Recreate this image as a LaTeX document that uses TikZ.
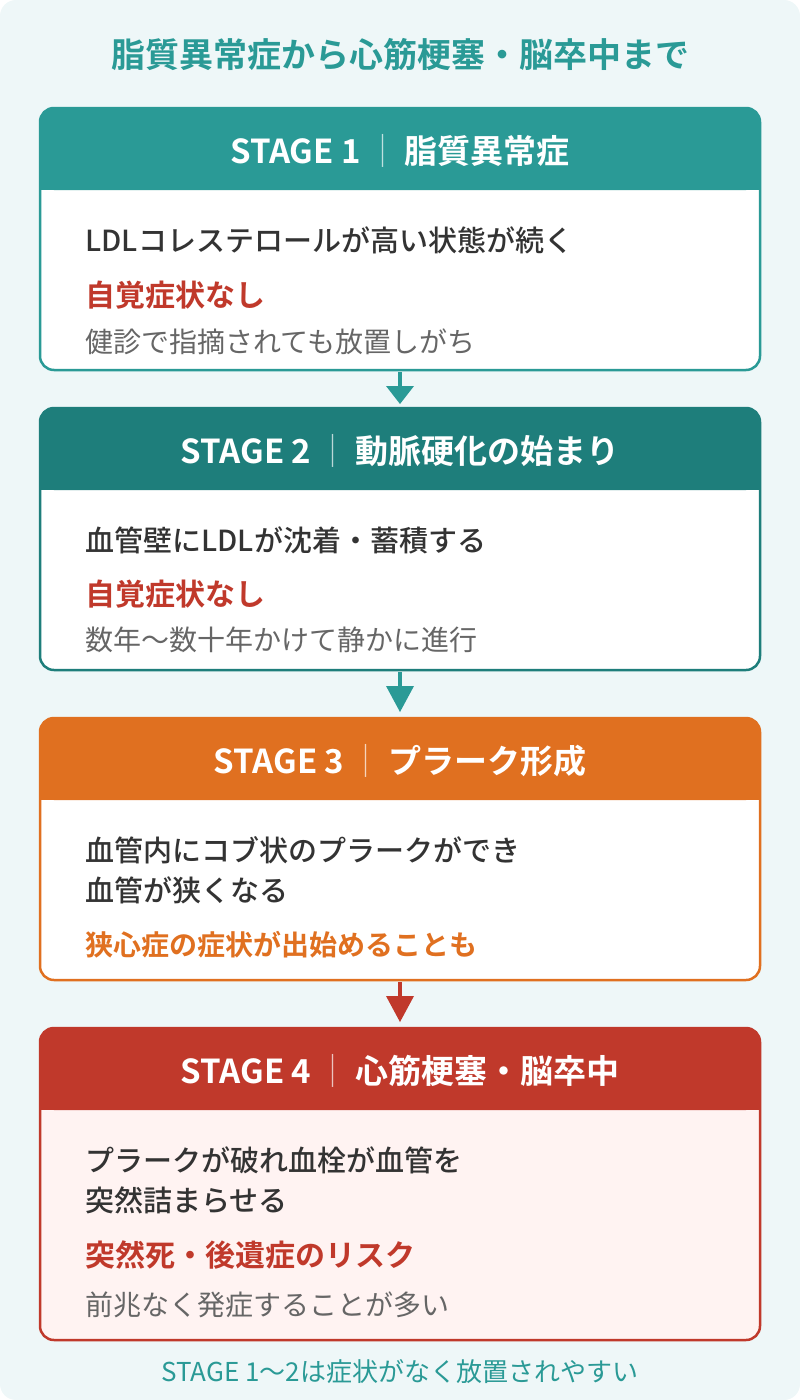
\documentclass[tikz,border=0pt]{standalone}
\usepackage{fontspec}
\setmainfont{Noto Sans CJK JP}
\newfontfamily\boldjp{Noto Sans CJK JP Bold}
\newfontfamily\medjp{Noto Sans CJK JP Medium}
\usetikzlibrary{positioning}
\definecolor{colorBack}{HTML}{EEF7F8}
\definecolor{colorTeal}{HTML}{2A9A96}
\definecolor{colorDeep}{HTML}{1E7E7B}
\definecolor{colorOrange}{HTML}{E07020}
\definecolor{colorRed}{HTML}{C0392B}
\definecolor{colorPink}{HTML}{FFF3F2}
\definecolor{colorText}{HTML}{333333}
\definecolor{colorGrey}{HTML}{666666}
\tikzset{
  stagebody/.style={rounded corners=14pt, line width=2.5pt},
  headtext/.style={text=white, font=\boldjp\fontsize{33}{38}\selectfont},
  bodytext/.style={anchor=west, text=colorText, font=\medjp\fontsize{29}{34}\selectfont},
  warntext/.style={anchor=west, font=\boldjp\fontsize{30}{34}\selectfont},
  notetext/.style={anchor=west, text=colorGrey, font=\fontsize{28}{32}\selectfont},
  flow/.style={line width=4pt},
}
\newcommand{\stagebox}[5]{% name, top, bottom, colour, fill
  \fill[#5, rounded corners=14pt] (40pt,-#2pt) rectangle (760pt,-#3pt);
  \fill[#4, rounded corners=14pt] (40pt,-#2pt) rectangle (760pt,-#2pt-82pt);
  \fill[#4] (40pt,-#2pt-40pt) rectangle (760pt,-#2pt-82pt);
  \draw[#4, stagebody] (40pt,-#2pt) rectangle (760pt,-#3pt);
  \node[headtext] (#1) at (400pt,-#2pt-43pt) {};
}
\newcommand{\flowarrow}[4]{% name, top, colour
  \coordinate (#1a) at (400pt,-#2pt);
  \coordinate (#1b) at (400pt,-#2pt-18pt);
  \draw[#3, flow] (#1a) -- (#1b);
  \fill[#3] (386pt,-#2pt-14pt) -- (414pt,-#2pt-14pt) -- (400pt,-#2pt-#4pt) -- cycle;
}
\begin{document}
\begin{tikzpicture}
\fill[colorBack, rounded corners=16pt] (0,0) rectangle (800pt,-1400pt);
\useasboundingbox (0,0) rectangle (800pt,-1400pt);
\node[text=colorTeal, font=\boldjp\fontsize{34}{38}\selectfont] (title) at (400pt,-55pt) {脂質異常症から心筋梗塞・脳卒中まで};

% stage 1
\stagebox{s1}{108}{370}{colorTeal}{white}
\node[headtext] at (s1) {STAGE 1{\color{white!70!colorTeal}\fontspec{Noto Sans CJK JP Light}\,│\,}脂質異常症};
\node[bodytext] (s1a) at (82pt,-240pt) {LDLコレステロールが高い状態が続く};
\node[warntext, text=colorRed] (s1b) at (82pt,-295pt) {自覚症状なし};
\node[notetext] (s1c) at (82pt,-342pt) {健診で指摘されても放置しがち};
\flowarrow{f1}{372}{colorTeal}{32}

% stage 2
\stagebox{s2}{408}{670}{colorDeep}{white}
\node[headtext] at (s2) {STAGE 2{\color{white!70!colorDeep}\fontspec{Noto Sans CJK JP Light}\,│\,}動脈硬化の始まり};
\node[bodytext] (s2a) at (82pt,-540pt) {血管壁にLDLが沈着・蓄積する};
\node[warntext, text=colorRed] (s2b) at (82pt,-594pt) {自覚症状なし};
\node[notetext] (s2c) at (82pt,-640pt) {数年〜数十年かけて静かに進行};
\flowarrow{f2}{672}{colorTeal}{40}

% stage 3
\stagebox{s3}{718}{980}{colorOrange}{white}
\node[headtext] at (s3) {STAGE 3{\color{white!70!colorOrange}\fontspec{Noto Sans CJK JP Light}\,│\,}プラーク形成};
\node[bodytext] (s3a) at (82pt,-850pt) {血管内にコブ状のプラークができ};
\node[bodytext] (s3b) at (82pt,-890pt) {血管が狭くなる};
\node[warntext, text=colorOrange, font=\boldjp\fontsize{28}{32}\selectfont] (s3c) at (82pt,-945pt) {狭心症の症状が出始めることも};
\flowarrow{f3}{982}{colorRed}{40}

% stage 4
\stagebox{s4}{1028}{1340}{colorRed}{colorPink}
\node[headtext] at (s4) {STAGE 4{\color{white!70!colorRed}\fontspec{Noto Sans CJK JP Light}\,│\,}心筋梗塞・脳卒中};
\node[bodytext] (s4a) at (82pt,-1160pt) {プラークが破れ血栓が血管を};
\node[bodytext] (s4b) at (82pt,-1200pt) {突然詰まらせる};
\node[warntext, text=colorRed] (s4c) at (82pt,-1255pt) {突然死・後遺症のリスク};
\node[notetext] (s4d) at (82pt,-1305pt) {前兆なく発症することが多い};

\node[text=colorTeal, font=\fontsize{26}{30}\selectfont] (foot) at (400pt,-1372pt) {STAGE 1〜2は症状がなく放置されやすい};
\end{tikzpicture}
\end{document}
